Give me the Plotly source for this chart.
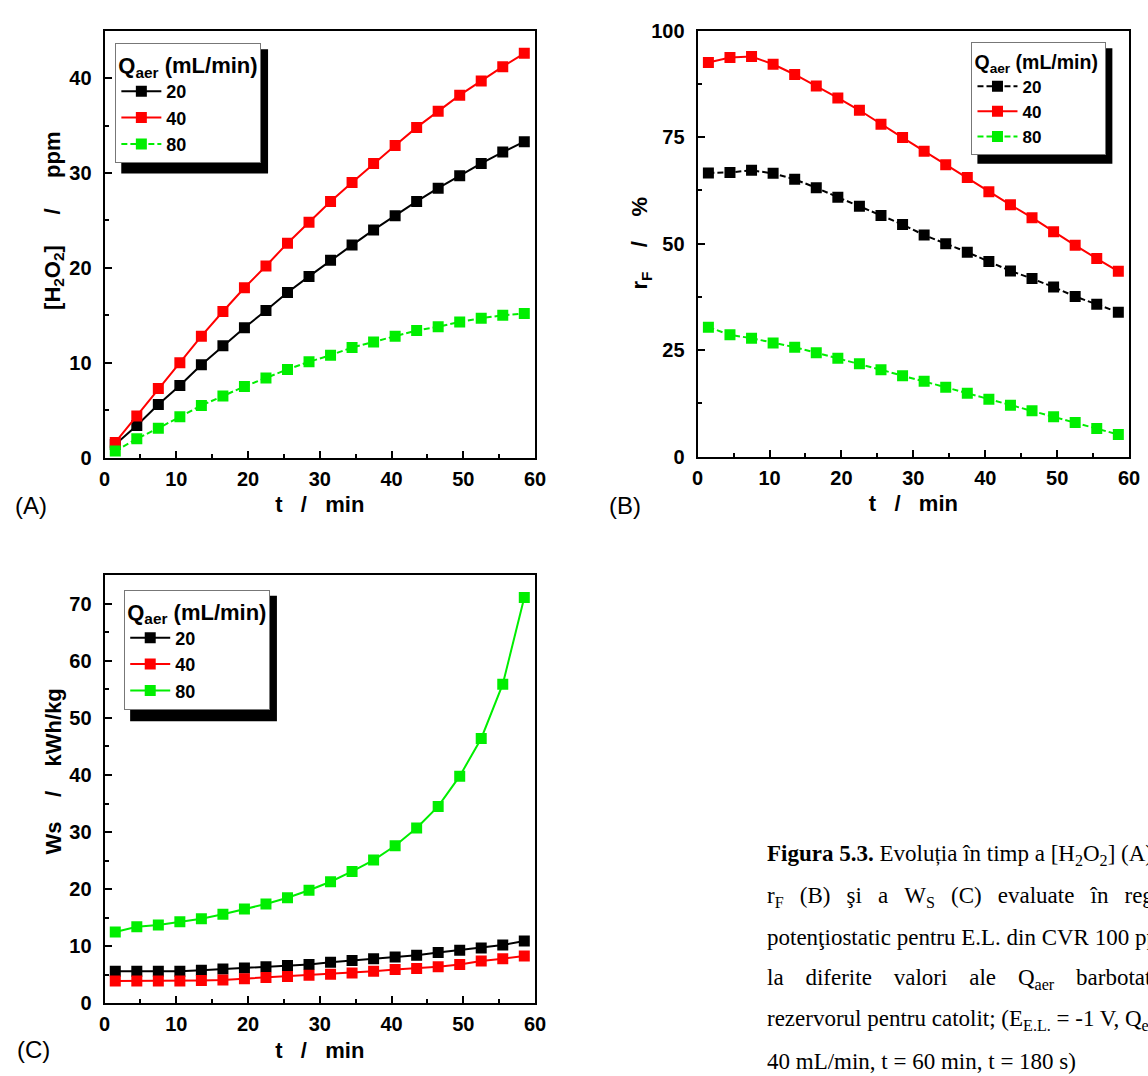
import plotly.graph_objects as go

W, H = 1148, 1076

# ---------------- data ----------------
t_min = [1.5, 4.5, 7.5, 10.5, 13.5, 16.5, 19.5, 22.5, 25.5, 28.5,
         31.5, 34.5, 37.5, 40.5, 43.5, 46.5, 49.5, 52.5, 55.5, 58.5]
series_names = ["20", "40", "80"]

h2o2_20 = [1.4, 3.4, 5.6, 7.6, 9.8, 11.8, 13.7, 15.5, 17.4, 19.1,
           20.8, 22.4, 24.0, 25.5, 27.0, 28.4, 29.7, 31.0, 32.2, 33.3]
h2o2_40 = [1.6, 4.4, 7.3, 10.0, 12.8, 15.4, 17.9, 20.2, 22.6, 24.8,
           27.0, 29.0, 31.0, 32.9, 34.8, 36.5, 38.2, 39.7, 41.2, 42.6]
h2o2_80 = [0.7, 2.0, 3.1, 4.3, 5.5, 6.5, 7.5, 8.4, 9.3, 10.1,
           10.8, 11.6, 12.2, 12.8, 13.4, 13.8, 14.3, 14.7, 15.0, 15.2]

rf_20 = [66.6, 66.7, 67.2, 66.5, 65.1, 63.1, 60.9, 58.8, 56.6, 54.5,
         52.0, 50.0, 48.0, 45.8, 43.6, 41.8, 39.8, 37.6, 35.8, 33.9]
rf_40 = [92.5, 93.7, 93.9, 92.1, 89.7, 87.0, 84.2, 81.3, 78.0, 74.9,
         71.7, 68.5, 65.5, 62.2, 59.1, 56.1, 52.8, 49.6, 46.5, 43.5]
rf_80 = [30.4, 28.6, 27.8, 26.7, 25.7, 24.4, 23.1, 21.8, 20.4, 19.0,
         17.7, 16.3, 14.9, 13.5, 12.1, 10.8, 9.4, 8.0, 6.6, 5.2]

ws_20 = [5.6, 5.6, 5.6, 5.6, 5.8, 6.0, 6.2, 6.4, 6.6, 6.8,
         7.2, 7.5, 7.8, 8.1, 8.4, 8.9, 9.3, 9.7, 10.2, 10.9]
ws_40 = [3.9, 3.9, 3.9, 3.9, 4.0, 4.1, 4.3, 4.5, 4.7, 4.9,
         5.1, 5.3, 5.6, 5.9, 6.1, 6.4, 6.8, 7.4, 7.8, 8.3]
ws_80 = [12.5, 13.4, 13.7, 14.3, 14.8, 15.6, 16.5, 17.4, 18.5, 19.8,
         21.3, 23.1, 25.1, 27.6, 30.7, 34.5, 39.8, 46.4, 55.9, 71.1]

x_ticks = [0, 10, 20, 30, 40, 50, 60]

colors = ["#000000", "#FF0000", "#00EE00"]
DASH = "6px,3px"

panels = [
    ([h2o2_20, h2o2_40, h2o2_80], ["solid", "solid", DASH], "x", "y", "legend"),
    ([rf_20, rf_40, rf_80], [DASH, "solid", DASH], "x2", "y2", "legend2"),
    ([ws_20, ws_40, ws_80], ["solid", "solid", "solid"], "x3", "y3", "legend3"),
]

fig = go.Figure()
for data, dashes, xa, ya, lg in panels:
    for name, vals, col, dash in zip(series_names, data, colors, dashes):
        fig.add_trace(go.Scatter(
            x=t_min, y=vals, name=name, mode="lines+markers",
            line=dict(color=col, width=2, dash=dash),
            marker=dict(symbol="square", size=11, color=col),
            xaxis=xa, yaxis=ya, legend=lg, showlegend=True))


def px_x(p):
    return p / W


def px_y(p):
    return 1 - p / H


tickfont = dict(family="Liberation Sans", size=20, color="black", weight="bold")
titlefont = dict(family="Liberation Sans", size=22, color="black", weight="bold")


def xaxis(domain, anchor):
    return dict(domain=domain, anchor=anchor, range=[0, 60], tickvals=x_ticks,
                ticks="inside", ticklen=7, tickwidth=2, tickcolor="black",
                minor=dict(ticks="inside", ticklen=4, tickwidth=2, dtick=5, tickcolor="black"),
                showline=True, linewidth=2, linecolor="black", mirror=True,
                showgrid=False, zeroline=False, tickfont=tickfont, ticklabelstandoff=2,
                title=dict(text="t   /   min", font=titlefont, standoff=8))


def yaxis(domain, anchor, rng, dtick, minor):
    return dict(domain=domain, anchor=anchor, range=rng, dtick=dtick, tick0=0,
                ticks="inside", ticklen=7, tickwidth=2, tickcolor="black",
                minor=dict(ticks="inside", ticklen=4, tickwidth=2, dtick=minor, tickcolor="black"),
                showline=True, linewidth=2, linecolor="black", mirror=True,
                showgrid=False, zeroline=False, tickfont=tickfont, ticklabelstandoff=7)


dA_x = [px_x(100), px_x(537)]
dA_y = [px_y(456), px_y(20)]
dB_x = [px_x(702), px_x(1140)]
dB_y = [px_y(455), px_y(20)]
dC_x = [px_x(100), px_x(537)]
dC_y = [px_y(1013), px_y(576)]

NB = "\u00a0"


def legend(xp, yp, title_size, item_size, pad=""):
    return dict(x=px_x(xp), y=px_y(yp), xanchor="left", yanchor="top",
                bgcolor="white", bordercolor="#777777", borderwidth=1,
                font=dict(family="Liberation Sans", size=item_size, color="black", weight="bold"),
                title=dict(text="Q<sub>aer</sub> (mL/min)" + pad,
                           font=dict(family="Liberation Sans", size=title_size,
                                     color="black", weight="bold")),
                itemwidth=40, tracegroupgap=0)


# legend box extents (px) -> drop shadows offset by 6 px
leg_boxes = [(111, 33, 260, 160), (980, 32, 1117, 150), (120, 591, 269, 719)]
shapes = []
for (x0, y0, x1, y1) in leg_boxes:
    shapes.append(dict(type="rect", xref="paper", yref="paper",
                       x0=px_x(x0 + 6), x1=px_x(x1 + 6),
                       y0=px_y(y1 + 6), y1=px_y(y0 + 6),
                       fillcolor="black", line=dict(width=0), layer="above"))

annotations = []
for txt, xp, yp in [("(A)", 7, 505), ("(B)", 610, 505), ("(C)", 9, 1060)]:
    annotations.append(dict(text=txt, x=px_x(xp), y=px_y(yp), xref="paper", yref="paper",
                            xanchor="left", yanchor="middle", showarrow=False,
                            font=dict(family="Liberation Sans", size=24, color="black")))

# y-axis titles
sp5 = NB * 5
for txt, xp, yp in [("[H<sub>2</sub>O<sub>2</sub>]" + sp5 + "/" + sp5 + "ppm", 48, 214),
                    ("r<sub>F</sub>" + NB * 4 + "/" + NB * 4 + "%", 645, 237),
                    ("Ws" + NB * 4 + "/" + NB * 4 + "kWh/kg", 48, 776)]:
    annotations.append(dict(text=txt, x=px_x(xp), y=px_y(yp), xref="paper", yref="paper",
                            xanchor="center", yanchor="middle", textangle=-90, showarrow=False,
                            font=titlefont))

gap2 = NB * 2 + "\u2009"
gap3 = NB * 3 + "\u2009"
caption_lines = [
    "<b>Figura 5.3.</b> Evoluția în timp a [H<sub>2</sub>O<sub>2</sub>] (A),",
    gap2.join(["r<sub>F</sub>", "(B)", "şi", "a", "W<sub>S</sub>", "(C)", "evaluate", "în", "regim"]),
    " ".join(["potenţiostatic", "pentru", "E.L.", "din", "CVR", "100", "ppi"]),
    gap3.join(["la", "diferite", "valori", "ale", "Q<sub>aer</sub>", "barbotat", "în"]),
    "rezervorul pentru catolit; (E<sub>E.L.</sub> = -1 V, Q<sub>el</sub> =",
    "40 mL/min, t = 60 min, t = 180 s)",
]
cap_left = 770
for i, line in enumerate(caption_lines):
    annotations.append(dict(text=line, x=px_x(cap_left), y=px_y(862 + 42 * i),
                            xref="paper", yref="paper", xanchor="left", yanchor="middle",
                            showarrow=False, align="left",
                            font=dict(family="Liberation Serif", size=23, color="black")))

fig.update_layout(
    width=W, height=H, autosize=False,
    margin=dict(l=0, r=0, t=0, b=0),
    paper_bgcolor="white", plot_bgcolor="white",
    xaxis=xaxis(dA_x, "y"),
    yaxis=yaxis(dA_y, "x", [0, 45], 10, 5),
    xaxis2=xaxis(dB_x, "y2"),
    yaxis2=yaxis(dB_y, "x2", [0, 100], 25, 12.5),
    xaxis3=xaxis(dC_x, "y3"),
    yaxis3=yaxis(dC_y, "x3", [0, 75], 10, 5),
    legend=legend(111, 33, 22, 18),
    legend2=legend(980, 32, 19.5, 17, NB),
    legend3=legend(120, 591, 22, 18),
    shapes=shapes,
    annotations=annotations,
    showlegend=True,
)

fig.write_html("out.html")
